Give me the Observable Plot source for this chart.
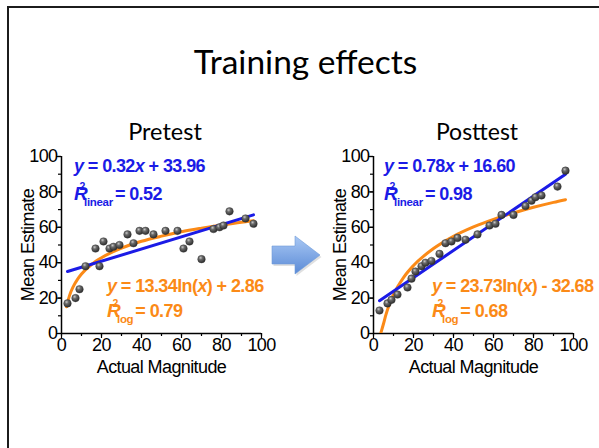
<!DOCTYPE html>
<html><head><meta charset="utf-8">
<script src="https://cdn.jsdelivr.net/npm/d3@7"></script>
<script src="https://cdn.jsdelivr.net/npm/@observablehq/plot@0.6"></script>
<style>
html,body{margin:0;padding:0;background:#fff;}
#slide{position:relative;width:599px;height:448px;overflow:hidden;background:#fff;}
#frame{position:absolute;left:7px;top:6px;width:620px;height:470px;border-top:2.5px solid #1c1c1c;border-left:2.5px solid #1c1c1c;}
.t{position:absolute;font-family:Lato,"Open Sans",sans-serif;color:#000;white-space:nowrap;}
#title{left:6px;width:599px;top:41px;text-align:center;font-size:33.5px;line-height:40px;}
#pre{left:65px;width:200px;top:118px;text-align:center;font-size:23.5px;line-height:26px;}
#post{left:377px;width:200px;top:118px;text-align:center;font-size:23px;line-height:26px;}
.chart{position:absolute;top:140px;}
.chart svg{overflow:visible;}
#arrow{position:absolute;left:0;top:0;}
</style></head>
<body>
<div id="slide">
  <div id="frame"></div>
  <svg width="0" height="0" style="position:absolute">
    <defs>
      <radialGradient id="ball" cx="0.38" cy="0.32" r="0.7">
        <stop offset="0" stop-color="#c8c8c8"/>
        <stop offset="0.35" stop-color="#6a6a6a"/>
        <stop offset="1" stop-color="#2a2a2a"/>
      </radialGradient>
      <linearGradient id="arrowGrad" x1="0" y1="0" x2="0" y2="1">
        <stop offset="0" stop-color="#a9c8f4"/>
        <stop offset="1" stop-color="#5a8ad6"/>
      </linearGradient>
    </defs>
  </svg>
  <div class="t" id="title">Training effects</div>
  <div class="t" id="pre">Pretest</div>
  <div class="t" id="post">Posttest</div>
  <svg id="arrow" width="599" height="448">
    <polygon points="272,246 295,246 295,236 320,255 295,274 295,264 272,264" fill="#000" opacity="0.12" transform="translate(1.5,2)"/>
    <polygon points="272,246 295,246 295,236 320,255 295,274 295,264 272,264" fill="url(#arrowGrad)" stroke="#6f9ad8" stroke-width="0.6"/>
  </svg>
  <div class="chart" id="c1" style="left:0px"></div>
  <div class="chart" id="c2" style="left:290px"></div>
</div>
<script>
// ---- data ----
const preX  = [3, 7, 9, 12, 17, 19, 21, 24, 26, 29, 33, 36, 39, 42, 46, 52, 58, 61, 64, 70, 76, 79, 81, 84, 92, 96];
const preY  = [17, 20, 25, 38, 48, 38, 52, 48, 49, 50, 56, 51, 58, 58, 56, 58, 58, 48, 52, 42, 59, 60, 61, 69, 65, 62];
const postX = [3, 7, 9, 12, 17, 19, 21, 24, 26, 29, 33, 36, 39, 42, 46, 52, 58, 61, 64, 70, 76, 79, 81, 84, 92, 96];
const postY = [13, 17, 19, 22, 26, 31, 35, 38, 40, 41, 45, 51, 52, 54, 53, 56, 61, 62, 67, 67, 72, 75, 77, 78, 83, 92];

// fitted lines as drawn
const preLinX  = [3, 96];
const preLinY  = [35, 67];
const postLinX = [3, 96];
const postLinY = [18.5, 90];
const preLogX  = [2.5, 4, 6, 8, 10, 15, 20, 30, 40, 50, 60, 70, 80, 90, 96];
const preLogY  = [15.1, 21.4, 26.8, 30.6, 33.6, 39.0, 42.8, 48.2, 52.1, 55.0, 57.5, 59.5, 61.3, 62.9, 63.7];
const postLogX = [3.6, 5, 6, 8, 10, 15, 20, 30, 40, 50, 60, 70, 80, 90, 96];
const postLogY = [0, 5.5, 9.8, 16.7, 22.0, 31.6, 38.4, 48.0, 54.9, 60.2, 64.5, 68.1, 71.3, 74.1, 75.6];

// equation labels
const preLinEq  = ["y", " = 0.32", "x", " + 33.96"];
const postLinEq = ["y", " = 0.78", "x", " + 16.60"];
const preLogEq  = ["y", " = 13.34ln(", "x", ") + 2.86"];
const postLogEq = ["y", " = 23.73ln(", "x", ") - 32.68"];
const preR2  = ["linear", "= 0.52", "log", "= 0.79"];
const postR2 = ["linear", "= 0.98", "log", "= 0.68"];

const xTicks = [0, 20, 40, 60, 80, 100];
const yTicks = [0, 20, 40, 60, 80, 100];
const minorTicks = [0, 10, 20, 30, 40, 50, 60, 70, 80, 90, 100];

const BLUE = "#1b1be6";
const ORANGE = "#fb8a17";
const FONT = "'Liberation Sans', Arial, sans-serif";

function toRows(xs, ys) { return xs.map((x, i) => ({x, y: ys[i]})); }

function makeChart(el, cfg) {
  const plot = Plot.plot({
    width: cfg.width, height: 240,
    marginLeft: cfg.marginLeft, marginRight: cfg.width - cfg.marginLeft - 200,
    marginTop: 16, marginBottom: 47,
    x: {domain: [0, 100]},
    y: {domain: [0, 100]},
    style: {fontFamily: FONT, fontSize: "18px", color: "#000", background: "transparent", overflow: "visible"},
    marks: [
      Plot.axisY(minorTicks, {tickSize: 3, fill: "none", label: null, strokeWidth: 1.2}),
      Plot.axisY(yTicks, {tickSize: 5, tickPadding: -1, label: null, fontSize: 18, strokeWidth: 1.2}),
      Plot.axisX(minorTicks, {tickSize: 3, fill: "none", label: null, strokeWidth: 1.2}),
      Plot.axisX(xTicks, {tickSize: 5, tickPadding: 0, label: null, fontSize: 18, strokeWidth: 1.2}),
      Plot.ruleX([0], {strokeWidth: 1.5}),
      Plot.ruleY([0], {strokeWidth: 1.5}),
      Plot.line(toRows(cfg.logX, cfg.logY), {x: "x", y: "y", stroke: ORANGE, strokeWidth: 3, curve: "monotone-x", clip: true}),
      Plot.line(toRows(cfg.linX, cfg.linY), {x: "x", y: "y", stroke: BLUE, strokeWidth: 3}),
      Plot.dot(toRows(cfg.xs, cfg.ys), {x: "x", y: "y", r: 3.8, fill: "url(#ball)", stroke: "#333", strokeWidth: 0.4}),
      Plot.text(["Actual Magnitude"], {text: d => d, frameAnchor: "bottom", dy: 39, fontSize: 18, textAnchor: "middle"}),
      Plot.text(["Mean Estimate"], {text: d => d, frameAnchor: "left", dx: -33, rotate: -90, fontSize: 18, textAnchor: "middle"})
    ]
  });
  el.appendChild(plot);
  const sx = plot.scale("x"), sy = plot.scale("y");
  const svg = d3.select(plot);
  svg.selectAll("text").attr("letter-spacing", "-0.6");

  function lineEq(parts, x, y, color) {
    const t = svg.append("text").attr("x", sx.apply(x)).attr("y", sy.apply(y))
      .attr("text-anchor", "start")
      .attr("fill", color).attr("font-family", FONT).attr("font-weight", "bold")
      .attr("font-size", 18).attr("letter-spacing", "-0.6");
    parts.forEach((p, i) => t.append("tspan").attr("font-style", i % 2 === 0 ? "italic" : null).text(p));
  }
  function rEq(sub, rest, x, y, color) {
    const px = sx.apply(x), py = sy.apply(y);
    const g = svg.append("g").attr("fill", color).attr("font-family", FONT).attr("font-weight", "bold").attr("text-anchor", "start");
    g.append("text").attr("x", px).attr("y", py).attr("font-size", 19).attr("font-style", "italic").text("R");
    g.append("text").attr("x", px + 5.5).attr("y", py - 10.5).attr("font-size", 10.5).text("2");
    const s = g.append("text").attr("x", px + 10).attr("y", py + 6).attr("font-size", 11.5).attr("letter-spacing", "-0.3").text(sub);
    const w = s.node().getComputedTextLength();
    g.append("text").attr("x", px + 10 + w + 2).attr("y", py).attr("font-size", 18).attr("letter-spacing", "-0.6").text(rest);
  }
  lineEq(cfg.linEq, cfg.linPos[0], cfg.linPos[1], BLUE);
  rEq(cfg.r2[0], cfg.r2[1], cfg.linPos[0], cfg.linPos[1] - 16, BLUE);
  lineEq(cfg.logEq, cfg.logPos[0], cfg.logPos[1], ORANGE);
  rEq(cfg.r2[2], cfg.r2[3], cfg.logPos[0], cfg.logPos[1] - 14.2, ORANGE);
}

makeChart(document.getElementById("c1"), {
  width: 290, marginLeft: 61,
  xs: preX, ys: preY, linX: preLinX, linY: preLinY, logX: preLogX, logY: preLogY,
  linEq: preLinEq, logEq: preLogEq, r2: preR2,
  linPos: [6.5, 91], logPos: [23, 23.2]
});
makeChart(document.getElementById("c2"), {
  width: 309, marginLeft: 83,
  xs: postX, ys: postY, linX: postLinX, linY: postLinY, logX: postLogX, logY: postLogY,
  linEq: postLinEq, logEq: postLogEq, r2: postR2,
  linPos: [5.5, 91], logPos: [29.5, 23.2]
});
</script>
</body></html>
